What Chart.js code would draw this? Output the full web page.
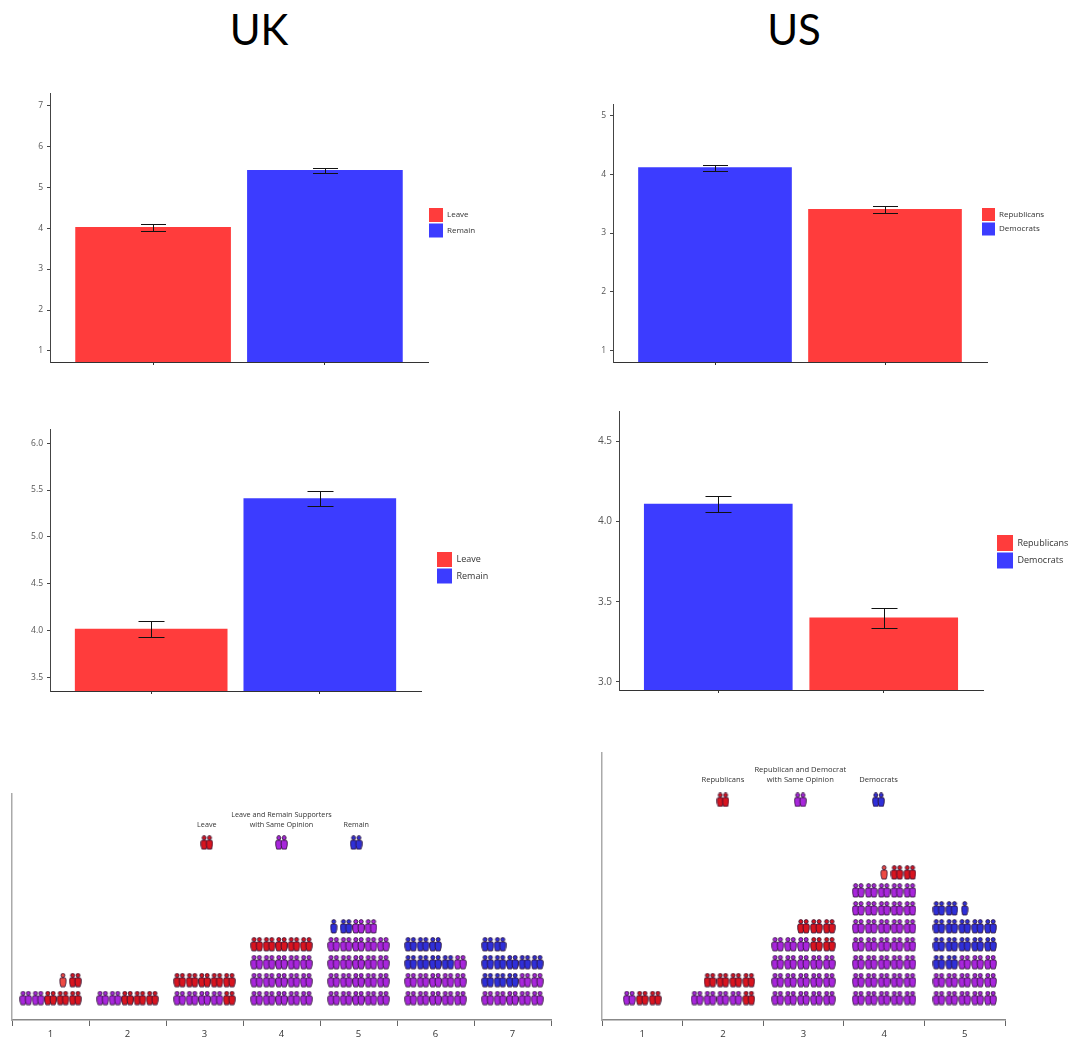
<!DOCTYPE html>
<html>
<head>
<meta charset="utf-8">
<title>UK and US opinion charts</title>
<script src="https://cdn.jsdelivr.net/npm/chart.js@4"></script>
<style>
  html, body { margin: 0; padding: 0; background: #fff; }
  body { position: relative; width: 1068px; height: 1038px; overflow: hidden; }
  canvas { position: absolute; }
  .head { position: absolute; top: 1px; font: 42px Lato, sans-serif; color: #000; line-height: 56px; width: 120px; text-align: center; }
</style>
</head>
<body>
<div class="head" style="left:199px">UK</div>
<div class="head" style="left:734px">US</div>
<canvas id="ukTop"></canvas>
<canvas id="usTop"></canvas>
<canvas id="ukMid"></canvas>
<canvas id="usMid"></canvas>
<canvas id="ukPeople"></canvas>
<canvas id="usPeople"></canvas>
<script>
// bar charts
const ukGroups = ["Leave", "Remain"];
const ukSlots = [1, 2];
const ukTopValues = [4.02, 5.41];
const ukTopErrors = [0.08, 0.07];
const ukTopTicks = [1, 2, 3, 4, 5, 6, 7];
const ukMidValues = [4.02, 5.41];
const ukMidErrors = [0.085, 0.075];
const ukMidTicks = [3.5, 4.0, 4.5, 5.0, 5.5, 6.0];

const usGroups = ["Republicans", "Democrats"];
const usSlots = [2, 1];
const usTopValues = [3.40, 4.11];
const usTopErrors = [0.06, 0.05];
const usTopTicks = [1, 2, 3, 4, 5];
const usMidValues = [3.40, 4.11];
const usMidErrors = [0.062, 0.047];
const usMidTicks = [3.0, 3.5, 4.0, 4.5];

// people charts: one list per bin, bottom row first
// P same opinion, R red pair, B blue pair, r/b single person, . empty
const ukBins = [
  ["PPRRR", "...rR"],
  ["PPRRR"],
  ["PPPPR", "RRRRR"],
  ["PPPPP", "PPPPP", "PPPPP", "RRRRR"],
  ["PPPPP", "PPPPP", "PPPPP", "PPPPP", "bBPP."],
  ["PPPPP", "PPPPP", "BBBBP", "BBB.."],
  ["PPPPP", "BBBPP", "BBBBB", "BB..."]
];
const usBins = [
  [".PRR."],
  ["PPPPR", ".RRRR"],
  ["PPPPP", "PPPPP", "PPPPP", "PPPRR", "..RRR"],
  ["PPPPP", "PPPPP", "PPPPP", "PPPPP", "PPPPP", "PPPPP", "PPPPP", "..rRR"],
  ["PPPPP", "PPPPP", "BBPPP", "BBBBB", "BBBBB", "BBb.."]
];
const ukBinLabels = ["1", "2", "3", "4", "5", "6", "7"];
const usBinLabels = ["1", "2", "3", "4", "5"];
const ukKeyTypes = ["R", "P", "B"];
const ukKeyBins = [3.03, 4.0, 4.97];
const ukKeyRow = 8.67;
const ukCaptionRow = 9.67;
const ukCaptions = [["Leave"], ["Leave and Remain Supporters", "with Same Opinion"], ["Remain"]];
const usKeyTypes = ["R", "P", "B"];
const usKeyBins = [2.0, 2.96, 3.93];
const usKeyRow = 11.05;
const usCaptionRow = 12.17;
const usCaptions = [["Republicans"], ["Republican and Democrat", "with Same Opinion"], ["Democrats"]];

const RED = "#ff3c3c";
const BLUE = "#3c3cff";
const FONT = "'Open Sans', sans-serif";

// person icon used as point style
function personAt(ctx, x, fill) {
  ctx.fillStyle = fill;
  ctx.strokeStyle = "#2a1030";
  ctx.lineWidth = 0.8;
  ctx.beginPath();
  ctx.arc(x, 2.6, 2, 0, Math.PI * 2);
  ctx.fill();
  ctx.stroke();
  ctx.beginPath();
  ctx.moveTo(x - 1.8, 5);
  ctx.lineTo(x + 1.8, 5);
  ctx.quadraticCurveTo(x + 3.1, 5.2, x + 3.1, 7);
  ctx.lineTo(x + 3, 10.5);
  ctx.lineTo(x + 2, 14);
  ctx.lineTo(x - 2, 14);
  ctx.lineTo(x - 3, 10.5);
  ctx.lineTo(x - 3.1, 7);
  ctx.quadraticCurveTo(x - 3.1, 5.2, x - 1.8, 5);
  ctx.closePath();
  ctx.fill();
  ctx.stroke();
}
function makeIcon(fill, pair) {
  const c = document.createElement("canvas");
  c.width = pair ? 13 : 8;
  c.height = 15;
  const ctx = c.getContext("2d");
  if (pair) {
    personAt(ctx, 3.8, fill);
    personAt(ctx, 9.2, fill);
  } else {
    personAt(ctx, 4, fill);
  }
  return c;
}
const icons = {
  P: makeIcon("#a826dc", true),
  R: makeIcon("#d8141f", true),
  B: makeIcon("#2f2fd8", true),
  r: makeIcon("#ee4a44", false),
  b: makeIcon("#2f2fd8", false)
};

// puts the legend at fixed canvas coordinates, outside the plot
const legendAt = {
  id: "legendAt",
  afterLayout(chart, args, opts) {
    if (opts.x === undefined) return;
    const l = chart.legend;
    l.left = opts.x;
    l.top = opts.y;
    l.right = chart.width;
    l.bottom = chart.height;
  }
};

const errorBars = {
  id: "errorBars",
  afterDatasetsDraw(chart, args, opts) {
    if (!opts.values) return;
    const { ctx, scales } = chart;
    ctx.save();
    ctx.strokeStyle = "#111";
    ctx.lineWidth = 1;
    opts.values.forEach((v, i) => {
      const x = Math.round(scales.x.getPixelForValue(opts.slots[i])) + 0.5;
      const hi = Math.round(scales.y.getPixelForValue(v + opts.errors[i])) + 0.5;
      const lo = Math.round(scales.y.getPixelForValue(v - opts.errors[i])) + 0.5;
      ctx.beginPath();
      ctx.moveTo(x, hi);
      ctx.lineTo(x, lo);
      ctx.moveTo(x - opts.cap / 2, hi);
      ctx.lineTo(x + opts.cap / 2, hi);
      ctx.moveTo(x - opts.cap / 2, lo);
      ctx.lineTo(x + opts.cap / 2, lo);
      ctx.stroke();
    });
    ctx.restore();
  }
};

const captionText = {
  id: "captionText",
  afterDatasetsDraw(chart, args, opts) {
    if (!opts.lines) return;
    const { ctx, scales } = chart;
    ctx.save();
    ctx.font = opts.size + "px " + FONT;
    ctx.fillStyle = "#333";
    ctx.textAlign = "center";
    ctx.textBaseline = "middle";
    opts.lines.forEach((block, i) => {
      const x = scales.slots.getPixelForValue(opts.bins[i]);
      const y = scales.y.getPixelForValue(opts.row);
      block.forEach((t, k) => ctx.fillText(t, x, y - (block.length - 1 - k) * 10));
    });
    ctx.restore();
  }
};

// canvas sits around the plot frame; padding keeps the frame exact
function placeCanvas(id, frame, axisW, axisH, extraRight) {
  const el = document.getElementById(id);
  const w = frame.right - frame.left + axisW + extraRight;
  const h = frame.bottom - frame.top + axisH + 4;
  el.width = w;
  el.height = h;
  el.style.width = w + "px";
  el.style.height = h + "px";
  el.style.left = frame.left - axisW + "px";
  el.style.top = frame.top - 4 + "px";
  return { left: 0, top: 4, right: extraRight, bottom: 0 };
}

function noEdgePadding(s) {
  s.paddingTop = 0;
  s.paddingBottom = 0;
  s.paddingLeft = 0;
  s.paddingRight = 0;
}

function barChart(id, o) {
  const axisW = 30;
  const padding = placeCanvas(id, o.frame, axisW, 8, o.legend.x - o.frame.right + 90);
  new Chart(document.getElementById(id), {
    type: "bar",
    data: {
      datasets: o.groups.map((g, i) => ({
        label: g,
        data: [{ x: o.slots[i], y: o.values[i] }],
        backgroundColor: o.colors[i],
        barThickness: o.barW,
        grouped: false
      }))
    },
    plugins: [legendAt, errorBars],
    options: {
      responsive: false,
      animation: false,
      layout: { padding },
      plugins: {
        tooltip: { enabled: false },
        legend: {
          position: "chartArea",
          align: "start",
          labels: {
            boxWidth: o.box,
            boxHeight: o.box,
            padding: 1.5,
            color: "#333",
            font: { family: FONT, size: o.legendFont }
          }
        },
        legendAt: { x: o.legend.x - o.frame.left + axisW - 1.5, y: o.legend.y - o.frame.top + 4 - 1.5 },
        errorBars: { values: o.values, errors: o.errors, slots: o.slots, cap: o.cap }
      },
      scales: {
        x: {
          type: "linear",
          offset: false,
          min: 0.4,
          max: 2.6,
          afterBuildTicks: (s) => { s.ticks = [{ value: 1 }, { value: 2 }]; },
          afterFit: (s) => { s.height = 8; noEdgePadding(s); },
          ticks: { callback: () => "", padding: 0, font: { size: 1 } },
          border: { color: "#333", width: 1 },
          grid: { offset: false, drawOnChartArea: false, tickLength: 3, color: "#333" }
        },
        y: {
          min: o.yMin,
          max: o.yMax,
          afterBuildTicks: (s) => { s.ticks = o.ticks.map((v) => ({ value: v })); },
          afterFit: (s) => { s.width = axisW; noEdgePadding(s); },
          ticks: {
            autoSkip: false,
            padding: 4,
            color: "#555",
            font: { family: FONT, size: o.tickFont },
            callback: (v) => v.toFixed(o.decimals)
          },
          border: { color: "#444", width: 1 },
          grid: { drawOnChartArea: false, tickLength: 3, color: "#444" }
        }
      }
    }
  });
}

function peopleChart(id, o) {
  const padding = placeCanvas(id, o.frame, 2, 22, 4);
  const pts = { P: [], R: [], B: [], r: [], b: [] };
  o.bins.forEach((rows, b) => {
    rows.forEach((row, j) => {
      [...row].forEach((ch, k) => {
        if (ch !== ".") pts[ch].push({ x: b + 1 + (k - 2) * o.slotGap, y: j });
      });
    });
  });
  o.keyTypes.forEach((t, i) => pts[t].push({ x: o.keyBins[i], y: o.keyRow }));
  new Chart(document.getElementById(id), {
    type: "scatter",
    data: {
      datasets: Object.keys(pts).map((k) => ({
        label: k,
        data: pts[k],
        xAxisID: "slots",
        pointStyle: icons[k]
      }))
    },
    plugins: [captionText],
    options: {
      responsive: false,
      animation: false,
      layout: { padding },
      plugins: {
        legend: { display: false },
        tooltip: { enabled: false },
        captionText: { lines: o.captions, bins: o.keyBins, row: o.captionRow, size: o.captionFont }
      },
      scales: {
        x: {
          type: "category",
          labels: o.labels,
          offset: true,
          afterFit: (s) => { s.height = 22; noEdgePadding(s); },
          ticks: { color: "#333", padding: 3, font: { family: FONT, size: 9.5 } },
          border: { color: "#888", width: 1.5 },
          grid: { offset: true, drawOnChartArea: false, tickLength: 6, color: "#666" }
        },
        slots: { type: "linear", axis: "x", display: false, min: 0.5, max: o.labels.length + 0.5 },
        y: {
          min: o.yMin,
          max: o.yMax,
          afterFit: (s) => { s.width = 2; noEdgePadding(s); },
          ticks: { display: false },
          border: { color: "#aaa", width: 1.5 },
          grid: { display: false }
        }
      }
    }
  });
}

barChart("ukTop", {
  frame: { left: 50, top: 93, right: 428, bottom: 362 },
  legend: { x: 429, y: 208 },
  groups: ukGroups, slots: ukSlots, values: ukTopValues, errors: ukTopErrors, ticks: ukTopTicks,
  colors: [RED, BLUE], yMin: 0.73, yMax: 7.3, barW: 155, cap: 25, box: 14,
  decimals: 0, tickFont: 8.5, legendFont: 8
});
barChart("usTop", {
  frame: { left: 613, top: 104, right: 987, bottom: 362 },
  legend: { x: 982, y: 208 },
  groups: usGroups, slots: usSlots, values: usTopValues, errors: usTopErrors, ticks: usTopTicks,
  colors: [RED, BLUE], yMin: 0.81, yMax: 5.19, barW: 153, cap: 25, box: 13,
  decimals: 0, tickFont: 8.5, legendFont: 8
});
barChart("ukMid", {
  frame: { left: 50, top: 429, right: 421, bottom: 691 },
  legend: { x: 437, y: 552 },
  groups: ukGroups, slots: ukSlots, values: ukMidValues, errors: ukMidErrors, ticks: ukMidTicks,
  colors: [RED, BLUE], yMin: 3.36, yMax: 6.15, barW: 152, cap: 26, box: 15,
  decimals: 1, tickFont: 8.5, legendFont: 9
});
barChart("usMid", {
  frame: { left: 619, top: 411, right: 983, bottom: 690 },
  legend: { x: 997, y: 535 },
  groups: usGroups, slots: usSlots, values: usMidValues, errors: usMidErrors, ticks: usMidTicks,
  colors: [RED, BLUE], yMin: 2.95, yMax: 4.69, barW: 148, cap: 26, box: 16,
  decimals: 1, tickFont: 10, legendFont: 9
});
peopleChart("ukPeople", {
  frame: { left: 8.5, top: 793, right: 551.5, bottom: 1020 },
  bins: ukBins, labels: ukBinLabels, slotGap: 0.161, yMin: -1.22, yMax: 11.39,
  keyTypes: ukKeyTypes, keyBins: ukKeyBins, keyRow: ukKeyRow,
  captions: ukCaptions, captionRow: ukCaptionRow, captionFont: 7.2
});
peopleChart("usPeople", {
  frame: { left: 598.5, top: 752, right: 1006, bottom: 1020 },
  bins: usBins, labels: usBinLabels, slotGap: 0.16, yMin: -1.22, yMax: 13.67,
  keyTypes: usKeyTypes, keyBins: usKeyBins, keyRow: usKeyRow,
  captions: usCaptions, captionRow: usCaptionRow, captionFont: 7.6
});
</script>
</body>
</html>
